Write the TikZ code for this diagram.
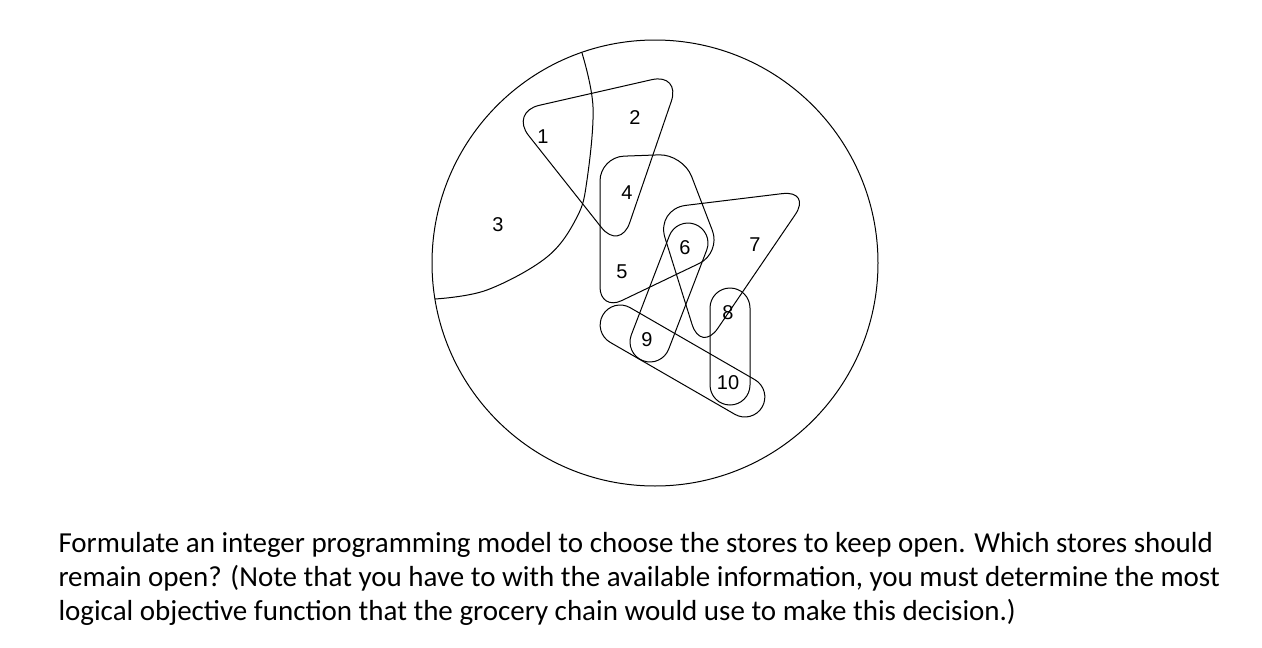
\documentclass[tikz,border=0pt]{standalone}
\usepackage{fontspec}
\setmainfont{Carlito}
\newfontfamily\lblfont{Liberation Sans}
\begin{document}
\begin{tikzpicture}[x=1pt,y=-1pt,line width=1pt,
  lbl/.style={font=\lblfont\fontsize{20}{20}\selectfont,inner sep=0pt},
  txtline/.style={anchor=base west,inner sep=0pt,font=\fontsize{29}{34}\selectfont},
  capsule/.style={draw,rounded corners=20pt,minimum height=40pt,inner sep=0pt}]
\useasboundingbox (0,0) rectangle (1262,648);
\node[draw,circle,minimum size=446pt,inner sep=0pt] (circ) at (655,263) {};
\draw plot[smooth,tension=0.6] coordinates {(582,53) (593,107) (587,180) (577,217) (547,257) (487,290) (435,299)};
\draw[rounded corners=30pt] (510,112) -- (681,73) -- (620,251) -- cycle;
\draw[rounded corners=24pt] (600,157) -- (683,154) -- (721,253) -- (600,311) -- cycle;
\draw[rounded corners=30pt] (656,209) -- (812,190) -- (701,353) -- cycle;
\node[capsule,minimum width=146pt,rotate=69] (c69) at (669,292.5) {};
\node[capsule,minimum width=184pt,rotate=-30] (c910) at (682.5,361) {};
\node[capsule,minimum width=117pt,rotate=90] (c810) at (730,346.5) {};
\node[lbl] (n1) at (543,137) {1};
\node[lbl] (n2) at (635,118) {2};
\node[lbl] (n3) at (498,225) {3};
\node[lbl] (n4) at (627,193) {4};
\node[lbl] (n5) at (622,272) {5};
\node[lbl] (n6) at (685,248) {6};
\node[lbl] (n7) at (755,245) {7};
\node[lbl] (n8) at (728,313) {8};
\node[lbl] (n9) at (647,340) {9};
\node[lbl] (n10) at (728,383) {10};
\node[txtline] (t1) at (58,552) {Formulate an integer programming model to choose the stores to keep open. Which stores should};
\node[txtline] (t2) at (58,586) {remain open? (Note that you have to with the available information, you must determine the most};
\node[txtline] (t3) at (58,620) {logical objective function that the grocery chain would use to make this decision.)};
\end{tikzpicture}
\end{document}
